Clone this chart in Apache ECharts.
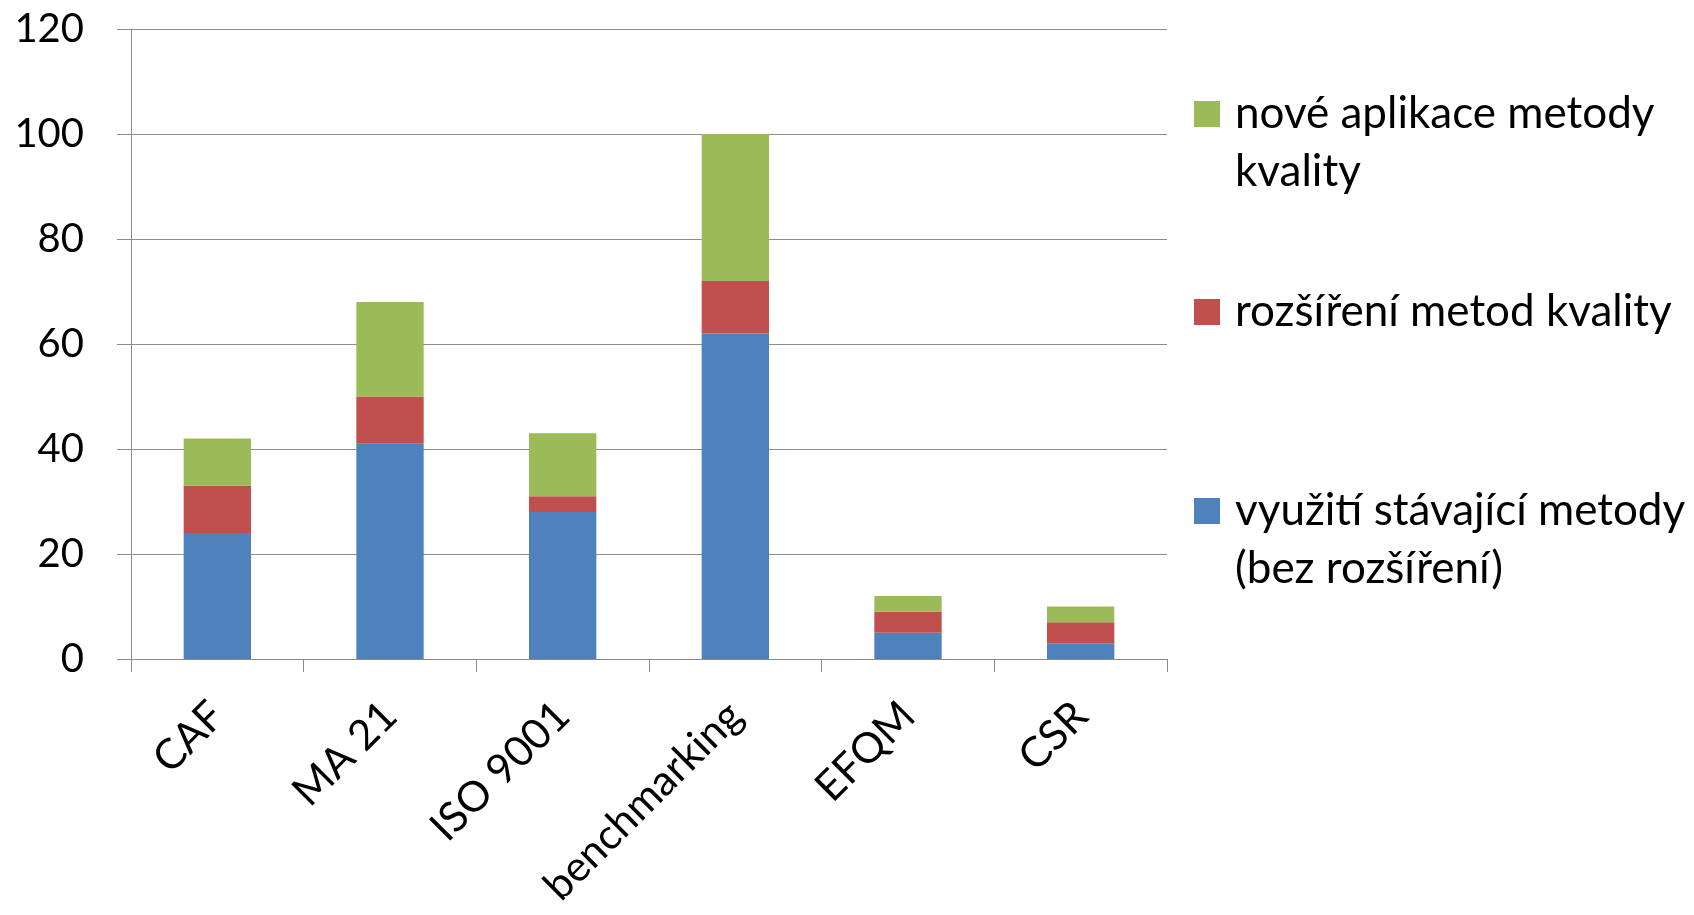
<!DOCTYPE html>
<html>
<head>
<meta charset="utf-8">
<script src="https://cdn.jsdelivr.net/npm/echarts@6/dist/echarts.min.js"></script>
<style>
html, body { margin: 0; padding: 0; background: #ffffff; }
#chart { width: 1694px; height: 915px; }
</style>
</head>
<body>
<div id="chart"></div>
<script>
// data
const categories = ["CAF", "MA 21", "ISO 9001", "benchmarking", "EFQM", "CSR"];
const existingMethod = [24, 41, 28, 62, 5, 3];
const extendedMethod = [9, 9, 3, 10, 4, 4];
const newMethod = [9, 18, 12, 28, 3, 3];
const seriesNames = [
    "využití stávající metody (bez rozšíření)",
    "rozšíření metod kvality",
    "nové aplikace metody kvality"
];
// legend text as it wraps in the picture
const legendText = [
    "využití stávající metody\n(bez rozšíření)",
    "rozšíření metod kvality",
    "nové aplikace metody\nkvality"
];
const yTicks = { min: 0, max: 120, interval: 20 };

const colors = ["#4F81BD", "#C0504D", "#9BBB59"];
const gridColor = "#8c8c8c";
const font = "Lato";

const chart = echarts.init(document.getElementById("chart"), null, { renderer: "canvas" });

// one legend per item, so each marker sits on the first text line
function makeLegend(idx, top)
{
    const twoLines = legendText[idx].indexOf("\n") >= 0;
    // an empty leading line keeps the first real line level with the marker
    const txt = twoLines ? "\n" + legendText[idx] : legendText[idx];
    return {
        data: [seriesNames[idx]],
        orient: "vertical",
        left: 1194,
        top: top,
        padding: 0,
        itemWidth: 26,
        itemHeight: 26,
        icon: "rect",
        selectedMode: false,
        formatter: function () { return txt; },
        textStyle: {
            fontFamily: font,
            fontSize: 44,
            lineHeight: 58,
            color: "#000",
            padding: [0, 0, 0, 10]
        }
    };
}

const seriesData = [existingMethod, extendedMethod, newMethod];

const option = {
    backgroundColor: "#ffffff",
    animation: false,
    textStyle: { fontFamily: font },
    grid: { left: 131, right: 527, top: 29, bottom: 256, containLabel: false },
    legend: [
        makeLegend(2, 27),
        makeLegend(1, 283),
        makeLegend(0, 424)
    ],
    xAxis: {
        type: "category",
        data: categories,
        axisLine: { lineStyle: { color: gridColor, width: 1 } },
        axisTick: { show: true, length: 13, lineStyle: { color: gridColor } },
        axisLabel: {
            rotate: 45,
            margin: 50,
            fontFamily: font,
            fontSize: 42,
            color: "#000"
        }
    },
    yAxis: {
        type: "value",
        min: yTicks.min,
        max: yTicks.max,
        interval: yTicks.interval,
        axisLine: { show: true, lineStyle: { color: gridColor, width: 1 } },
        axisTick: { show: true, length: 14, lineStyle: { color: gridColor } },
        splitLine: { show: true, lineStyle: { color: gridColor, width: 1 } },
        axisLabel: {
            margin: 47,
            fontFamily: font,
            fontSize: 40,
            color: "#000"
        }
    },
    series: seriesData.map(function (vals, i)
    {
        return {
            name: seriesNames[i],
            type: "bar",
            stack: "total",
            barWidth: "39%",
            data: vals,
            itemStyle: { color: colors[i] }
        };
    })
};

chart.setOption(option);
</script>
</body>
</html>
